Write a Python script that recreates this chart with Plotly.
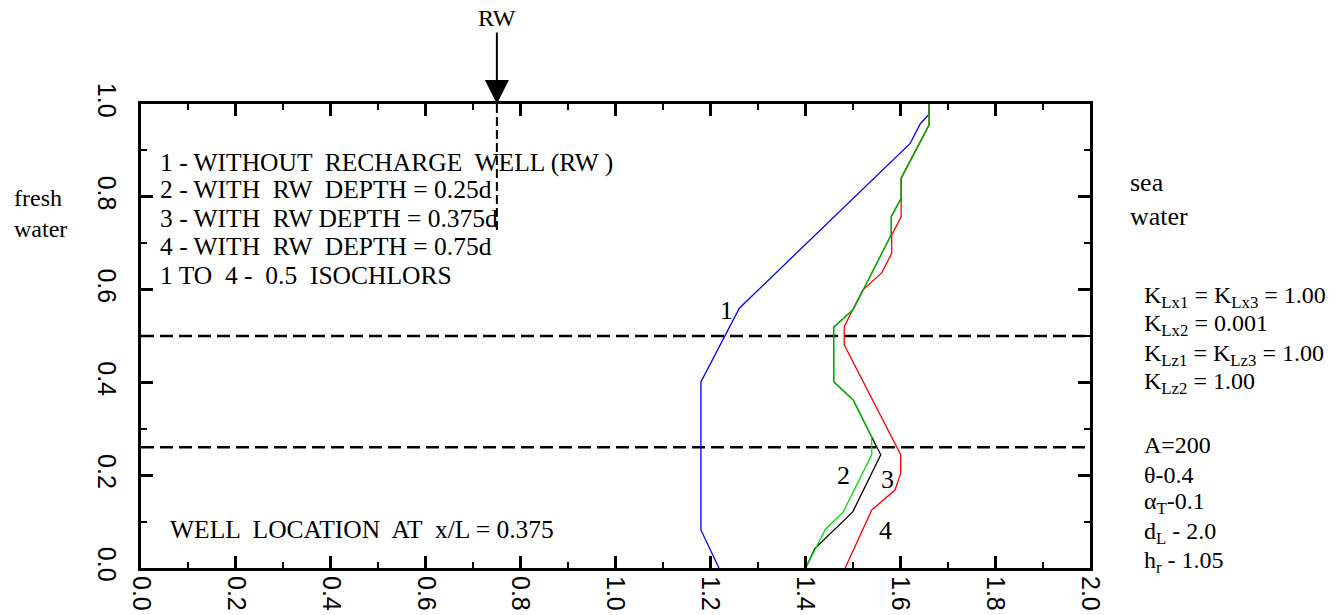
import plotly.graph_objects as go

# ---------------- data ----------------
curve1_x = [1.661, 1.661, 1.642, 1.621, 1.261, 1.180, 1.180, 1.218]
curve1_y = [1.000, 0.978, 0.957, 0.915, 0.560, 0.401, 0.082, 0.000]

curve2_x = [1.661, 1.661, 1.602, 1.602, 1.581, 1.581, 1.501, 1.460, 1.460, 1.501, 1.540, 1.540, 1.480, 1.442, 1.401]
curve2_y = [1.000, 0.955, 0.840, 0.797, 0.757, 0.718, 0.557, 0.519, 0.401, 0.362, 0.282, 0.244, 0.121, 0.083, 0.000]

curve3_x = [1.661, 1.661, 1.602, 1.602, 1.581, 1.581, 1.501, 1.460, 1.460, 1.501, 1.540, 1.559, 1.500, 1.420, 1.401]
curve3_y = [1.000, 0.955, 0.840, 0.797, 0.757, 0.718, 0.557, 0.519, 0.401, 0.362, 0.282, 0.244, 0.121, 0.042, 0.000]
shared_points = 11  # curves 2 and 3 coincide for the first 11 points

curve4_x = [1.661, 1.661, 1.602, 1.602, 1.582, 1.582, 1.561, 1.521, 1.482, 1.482, 1.601, 1.601, 1.589, 1.540, 1.484]
curve4_y = [1.000, 0.955, 0.840, 0.757, 0.718, 0.678, 0.636, 0.599, 0.520, 0.481, 0.244, 0.204, 0.168, 0.125, 0.000]

curve_labels = ["1", "2", "3", "4"]
curve_label_x = [1.233, 1.480, 1.573, 1.570]
curve_label_y = [0.555, 0.200, 0.191, 0.081]

isochlor_levels = [0.5, 0.26]   # horizontal dashed reference lines
well_x = 0.75                   # recharge well location (x/L = 0.375)
well_bottom = 0.72

legend_lines = [
    "1 - WITHOUT  RECHARGE  WELL (RW )",
    "2 - WITH  RW  DEPTH = 0.25d",
    "3 - WITH  RW DEPTH = 0.375d",
    "4 - WITH  RW  DEPTH = 0.75d",
    "1 TO  4 -  0.5  ISOCHLORS",
]
legend_y = [0.875, 0.815, 0.754, 0.692, 0.631]

param_lines = [
    "K<sub>Lx1</sub> = K<sub>Lx3</sub> = 1.00",
    "K<sub>Lx2</sub> = 0.001",
    "K<sub>Lz1</sub> = K<sub>Lz3</sub> = 1.00",
    "K<sub>Lz2</sub> = 1.00",
    "A=200",
    "θ-0.4",
    "α<sub>T</sub>-0.1",
    "d<sub>L</sub> - 2.0",
    "h<sub>r</sub> - 1.05",
]
param_y = [0.584, 0.524, 0.459, 0.399, 0.265, 0.200, 0.140, 0.075, 0.013]

x_ticks = [0.0, 0.2, 0.4, 0.6, 0.8, 1.0, 1.2, 1.4, 1.6, 1.8, 2.0]
y_ticks = [0.0, 0.2, 0.4, 0.6, 0.8, 1.0]

SERIF = "Liberation Serif, Times New Roman, serif"
SANS = "Liberation Sans, Arial, sans-serif"

fig = go.Figure()

# reference dashed lines
for lvl in isochlor_levels:
    fig.add_trace(go.Scatter(x=[0, 2], y=[lvl, lvl], mode="lines",
                             line=dict(color="black", width=2.5, dash="13px,6px"),
                             hoverinfo="skip", showlegend=False, cliponaxis=False))
fig.add_trace(go.Scatter(x=[well_x, well_x], y=[1.0, well_bottom], mode="lines",
                         line=dict(color="black", width=2, dash="9px,4px"),
                         hoverinfo="skip", showlegend=False))

# curves
fig.add_trace(go.Scatter(x=curve1_x, y=curve1_y, mode="lines",
                         line=dict(color="#0000ff", width=1.3), showlegend=False))
fig.add_trace(go.Scatter(x=curve4_x, y=curve4_y, mode="lines",
                         line=dict(color="#ff0000", width=1.3), showlegend=False))
fig.add_trace(go.Scatter(x=curve3_x[shared_points - 1:], y=curve3_y[shared_points - 1:], mode="lines",
                         line=dict(color="black", width=1.3), showlegend=False))
fig.add_trace(go.Scatter(x=curve2_x[shared_points - 1:], y=curve2_y[shared_points - 1:], mode="lines",
                         line=dict(color="#00e000", width=1.3), showlegend=False))
fig.add_trace(go.Scatter(x=curve2_x[:shared_points], y=curve2_y[:shared_points], mode="lines",
                         line=dict(color="#00a800", width=1.6), showlegend=False))

ann = []
for t, x, y in zip(curve_labels, curve_label_x, curve_label_y):
    ann.append(dict(x=x, y=y, xref="x", yref="y", text=t, showarrow=False,
                    font=dict(family=SERIF, size=26, color="black")))
for t, y in zip(legend_lines, legend_y):
    ann.append(dict(x=0.036, y=y, xref="x", yref="y", text=t, showarrow=False,
                    xanchor="left", yanchor="middle",
                    font=dict(family=SERIF, size=25.5, color="black")))
ann.append(dict(x=0.057, y=0.082, xref="x", yref="y", text="WELL  LOCATION  AT  x/L = 0.375",
                showarrow=False, xanchor="left", yanchor="middle",
                font=dict(family=SERIF, size=25.5, color="black")))
for t, y in zip(param_lines, param_y):
    ann.append(dict(x=1.0548, y=y, xref="paper", yref="y", text=t, showarrow=False,
                    xanchor="left", yanchor="middle",
                    font=dict(family=SERIF, size=24, color="black")))
ann.append(dict(x=1.040, y=0.795, xref="paper", yref="y", text="sea<br>water", showarrow=False,
                xanchor="left", yanchor="middle", align="left",
                font=dict(family=SERIF, size=26, color="black")))
ann.append(dict(x=-0.136, y=0.763, xref="paper", yref="y", text="fresh<br>water", showarrow=False,
                xanchor="left", yanchor="middle", align="left",
                font=dict(family=SERIF, size=24, color="black")))
# recharge well arrow
ann.append(dict(x=well_x, y=1.0, xref="x", yref="y", text="RW", showarrow=True,
                ax=0, ay=-86, axref="pixel", ayref="pixel",
                arrowhead=2, arrowsize=2.4, arrowwidth=2, arrowcolor="black",
                font=dict(family=SERIF, size=24, color="black")))

axis_common = dict(showline=True, linewidth=3, linecolor="black", mirror="ticks",
                   ticks="inside", ticklen=12, tickwidth=3, tickcolor="black",
                   showgrid=False, zeroline=False, tickangle=90, automargin=False)

fig.update_layout(
    width=1341, height=615,
    margin=dict(l=141, r=251, t=104, b=47),
    plot_bgcolor="white", paper_bgcolor="white",
    xaxis=dict(range=[0, 2], tickvals=x_ticks, ticktext=[f"{v:.1f}" for v in x_ticks],
               minor=dict(dtick=0.1, ticks="inside", ticklen=6, tickwidth=2, tickcolor="black"),
               tickfont=dict(family=SANS, size=25, color="black"),
               ticklabelstandoff=0, **axis_common),
    yaxis=dict(range=[0, 1], tickvals=y_ticks, ticktext=[f"{v:.1f}" for v in y_ticks],
               minor=dict(dtick=0.1, ticks="inside", ticklen=6, tickwidth=2, tickcolor="black"),
               tickfont=dict(family=SANS, size=25, color="black"),
               ticklabelstandoff=10, **axis_common),
    annotations=ann,
    showlegend=False,
)

fig.write_html("out.html")
